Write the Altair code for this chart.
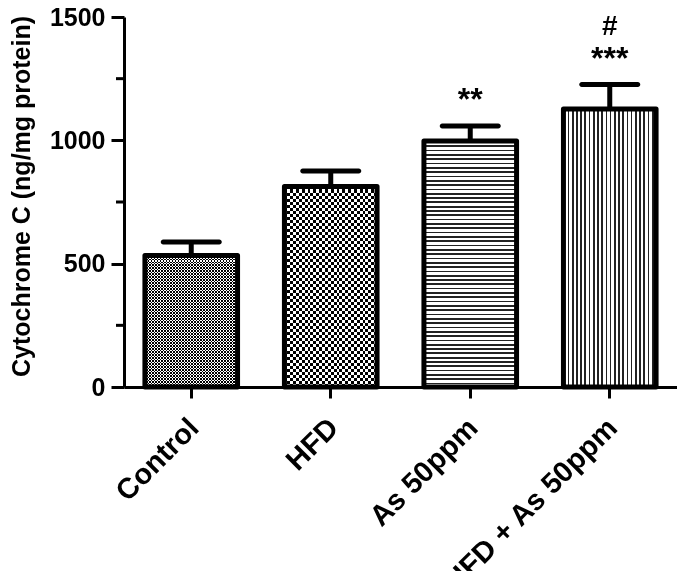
import altair as alt
import pandas as pd

groups = ["Control", "HFD", "As 50ppm", "HFD + As 50ppm"]
means = [533, 813, 997, 1127]
upper = [588, 876, 1058, 1226]
stars = ["", "", "**", "***"]
hashes = ["", "", "", "#"]
y_ticks = [0, 500, 1000, 1500]
y_minor = [250, 750, 1250]

df = pd.DataFrame({"group": groups, "mean": means, "upper": upper,
                   "stars": stars, "hash": hashes})
minor_df = pd.DataFrame({"v": y_minor})

FONT = "Liberation Sans"


def stripes(n, horizontal, dark="black", light="white", duty=0.5):
    stops = []
    for i in range(n):
        a = round(i / n, 5)
        b = round((i + duty) / n, 5)
        c = round((i + 1) / n, 5)
        stops += [{"offset": a, "color": dark}, {"offset": b, "color": dark},
                  {"offset": b, "color": light}, {"offset": c, "color": light}]
    return {"gradient": "linear", "x1": 0, "y1": 0,
            "x2": 0 if horizontal else 1, "y2": 1 if horizontal else 0,
            "stops": stops}


yscale = alt.Scale(domain=[0, 1500], nice=False, zero=True)
yaxis = alt.Axis(values=y_ticks, format="d", title="Cytochrome C (ng/mg protein)",
                 titleFont=FONT, titleFontSize=25, titleFontWeight="bold",
                 titleColor="black", titleX=-90, titleY=179, titleBaseline="bottom",
                 labelFont=FONT, labelFontSize=25, labelFontWeight="bold",
                 labelColor="black", labelPadding=6, tickSize=13, tickWidth=3,
                 tickColor="black", domainColor="black", domainWidth=3, grid=False)
xaxis = alt.Axis(title=None, labelAngle=-45, labelFont=FONT, labelFontSize=29,
                 labelFontWeight="bold", labelColor="black", labelPadding=15,
                 labelOffset=-7, labelLimit=0, tickSize=11, tickWidth=3,
                 tickColor="black", domainColor="black", domainWidth=3, grid=False)
X = alt.X("group:N", sort=groups, axis=xaxis,
          scale=alt.Scale(paddingInner=0.336, paddingOuter=0.15))


def Y(field):
    return alt.Y(field, type="quantitative", scale=yscale, axis=yaxis)


base = alt.Chart(df).encode(x=X)


def only(g):
    return base.transform_filter(alt.datum.group == g)


ctrl_h = only("Control").mark_bar(fill=stripes(44, True)).encode(y=Y("mean"))
ctrl_v = only("Control").mark_bar(fill=stripes(31, False, dark="white", light="black"),
                                  blend="difference").encode(y=Y("mean"))
hfd_h = only("HFD").mark_bar(fill=stripes(33, True)).encode(y=Y("mean"))
hfd_v = only("HFD").mark_bar(fill=stripes(16, False, dark="white", light="black"),
                             blend="difference").encode(y=Y("mean"))
as_h = only("As 50ppm").mark_bar(fill=stripes(57, True, dark="#222222", duty=0.4)).encode(y=Y("mean"))
mix_v = only("HFD + As 50ppm").mark_bar(fill=stripes(22, False, dark="#222222", duty=0.4)).encode(y=Y("mean"))

outline = base.mark_bar(fill="transparent", stroke="black", strokeWidth=5,
                        strokeJoin="round").encode(y=Y("mean"))
stem = base.mark_rule(color="black", strokeWidth=5).encode(y=Y("mean"), y2="upper:Q")
cap = base.mark_tick(color="black", thickness=5, size=61, cornerRadius=2.5,
                     opacity=1).encode(y=Y("upper"))
star_txt = base.mark_text(font=FONT, fontSize=32, fontWeight="bold", color="black",
                          baseline="alphabetic", dy=-16).encode(y=Y("upper"), text="stars:N")
hash_txt = base.mark_text(font=FONT, fontSize=28, fontWeight="bold", color="black",
                          baseline="alphabetic", dy=-50).encode(y=Y("upper"), text="hash:N")
minor = alt.Chart(minor_df).mark_rule(color="black", strokeWidth=3).encode(
    y=Y("v"), x=alt.value(-8), x2=alt.value(0))

chart = alt.layer(ctrl_h, ctrl_v, hfd_h, hfd_v, as_h, mix_v, outline, stem, cap,
                  star_txt, hash_txt, minor).properties(
    width=553, height=370,
    padding={"left": 116, "top": 9, "right": 0, "bottom": 184},
    autosize=alt.AutoSizeParams(type="none"),
).configure_view(strokeWidth=0)

chart.save("out.html", embed_options={"renderer": "svg", "actions": False})
